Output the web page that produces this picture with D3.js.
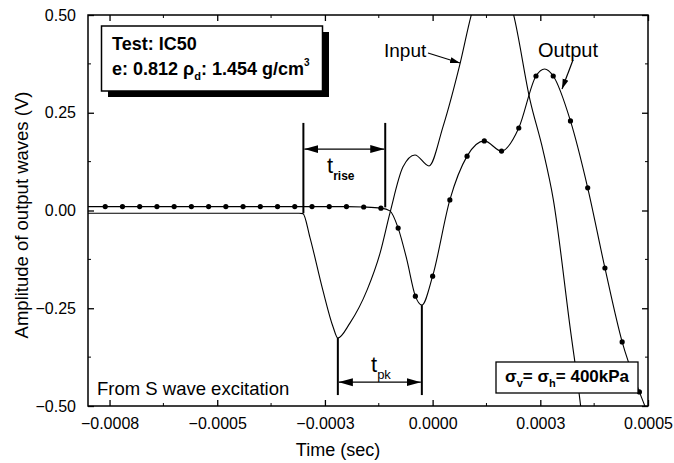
<!DOCTYPE html>
<html><head><meta charset="utf-8">
<script src="https://cdn.jsdelivr.net/npm/d3@7"></script>
<style>body{margin:0;background:#fff;} svg{display:block;font-family:"Liberation Sans",Arial,sans-serif;}</style>
</head><body><svg id="c" width="674" height="463"></svg>
<script>
// ---- tick definitions ----
const xTickValues = [-0.00075, -0.0005, -0.00025, 0, 0.00025, 0.0005];
const xTickLabels = ["\u22120.0008", "\u22120.0005", "\u22120.0003", "0.0000", "0.0003", "0.0005"];
const yTickValues = [0.5, 0.25, 0, -0.25, -0.5];
const yTickLabels = ["0.50", "0.25", "0.00", "\u22120.25", "\u22120.50"];

// ---- Output wave (line) ----
const outputTime = [-0.0008, -0.00076, -0.00072, -0.00068, -0.00064, -0.0006, -0.00056, -0.00052, -0.00048,
  -0.00044, -0.0004, -0.00036, -0.00032, -0.00028, -0.00024, -0.0002, -0.00016, -0.00012, -0.000099,
  -0.00008, -0.00006, -0.00004, -0.000025, 0, 0.00004, 0.00008, 0.00012, 0.00016, 0.0002, 0.00024,
  0.00026, 0.00028, 0.00032, 0.00036, 0.0004, 0.00044, 0.00048, 0.0005];
const outputValue = [0.01, 0.01, 0.01, 0.01, 0.01, 0.01, 0.01, 0.01, 0.01,
  0.01, 0.01, 0.01, 0.01, 0.01, 0.01, 0.01, 0.009, 0.006, -0.001,
  -0.045, -0.125, -0.219, -0.242, -0.168, 0.027, 0.139, 0.178, 0.152, 0.211, 0.344,
  0.362, 0.344, 0.229, 0.058, -0.147, -0.336, -0.464, -0.52];

// ---- Output wave (symbols) ----
const markerTime = [-0.00076, -0.00072, -0.00068, -0.00064, -0.0006, -0.00056, -0.00052, -0.00048,
  -0.00044, -0.0004, -0.00036, -0.00032, -0.00028, -0.00024, -0.0002, -0.00016, -0.00012,
  -0.00008, -0.00004, 0, 0.00004, 0.00008, 0.00012, 0.00016, 0.0002, 0.00024, 0.00028,
  0.00032, 0.00036, 0.0004, 0.00044, 0.00048];
const markerValue = [0.01, 0.01, 0.01, 0.01, 0.01, 0.01, 0.01, 0.01,
  0.01, 0.01, 0.01, 0.01, 0.01, 0.01, 0.01, 0.009, 0.006,
  -0.045, -0.219, -0.168, 0.027, 0.139, 0.178, 0.152, 0.211, 0.344, 0.344,
  0.229, 0.058, -0.147, -0.336, -0.464];

// ---- Input wave ----
const inputTime = [-0.0008, -0.00031, -0.000301, -0.000285, -0.000255, -0.000231, -0.00022, -0.000192,
  -0.000152, -0.000122, -0.000099, -0.000069, -0.000041, -0.0000084, 0.000024, 0.000064, 0.000091,
  0.00014, 0.000187, 0.000226, 0.000256, 0.00028, 0.00032, 0.000342, 0.00035];
const inputValue = [-0.007, -0.007, -0.008, -0.068, -0.203, -0.298, -0.326, -0.288,
  -0.203, -0.109, -0.006, 0.111, 0.142, 0.114, 0.214, 0.377, 0.505,
  0.62, 0.505, 0.283, 0.155, 0.029, -0.306, -0.485, -0.56];

// ---- annotation anchors (data units) ----
const riseStart = -0.0003, riseEnd = -0.00011, riseTop = 0.224, riseArrowY = 0.157;
const pkStart = -0.00022, pkEnd = -0.000025, pkBottom = -0.472, pkArrowY = -0.439;

const W = 674, H = 463;
const m = {left: 88, right: 26, top: 15, bottom: 57};
const pw = W - m.left - m.right, ph = H - m.top - m.bottom;

const svg = d3.select("#c");
const x = d3.scaleLinear().domain([-0.0008, 0.0005]).range([m.left, m.left + pw]);
const y = d3.scaleLinear().domain([-0.5, 0.5]).range([m.top + ph, m.top]);

const defs = svg.append("defs");
defs.append("clipPath").attr("id", "clip").append("rect")
  .attr("x", m.left).attr("y", m.top).attr("width", pw).attr("height", ph);
defs.append("marker").attr("id", "ah").attr("viewBox", "0 -5 14 10")
  .attr("markerUnits", "userSpaceOnUse").attr("markerWidth", 14).attr("markerHeight", 10)
  .attr("refX", 14).attr("refY", 0).attr("orient", "auto-start-reverse")
  .append("path").attr("d", "M0,-4L14,0L0,4Z").attr("fill", "#000");
defs.append("marker").attr("id", "ahs").attr("viewBox", "0 -4 10 8")
  .attr("markerUnits", "userSpaceOnUse").attr("markerWidth", 10).attr("markerHeight", 8)
  .attr("refX", 10).attr("refY", 0).attr("orient", "auto")
  .append("path").attr("d", "M0,-3L10,0L0,3Z").attr("fill", "#000");

// minor ticks
const xMinor = [-0.000625, -0.000375, -0.000125, 0.000125, 0.000375];
const yMinor = [0.375, 0.125, -0.125, -0.375];

// axes
const axB = d3.axisBottom(x).tickValues(xTickValues).tickFormat((d, i) => xTickLabels[i]).tickSizeInner(-6).tickSizeOuter(0).tickPadding(12);
const axT = d3.axisTop(x).tickValues(xTickValues).tickFormat("").tickSizeInner(-6).tickSizeOuter(0);
const axL = d3.axisLeft(y).tickValues(yTickValues).tickFormat((d, i) => yTickLabels[i]).tickSizeInner(-6).tickSizeOuter(0).tickPadding(12);
const axR = d3.axisRight(y).tickValues(yTickValues).tickFormat("").tickSizeInner(-6).tickSizeOuter(0);

function styleAxis(g) {
  g.select(".domain").remove();
  g.selectAll(".tick line").attr("stroke", "#000").attr("stroke-width", 1.3);
  g.selectAll(".tick text").attr("fill", "#000").attr("font-size", 16).attr("font-family", "Liberation Sans, Arial, sans-serif");
}
svg.append("g").attr("transform", `translate(0,${m.top + ph})`).call(axB).call(styleAxis);
svg.append("g").attr("transform", `translate(0,${m.top})`).call(axT).call(styleAxis);
svg.append("g").attr("transform", `translate(${m.left},0)`).call(axL).call(styleAxis);
svg.append("g").attr("transform", `translate(${m.left + pw},0)`).call(axR).call(styleAxis);

// minor tick marks
const mg = svg.append("g").attr("stroke", "#000").attr("stroke-width", 1);
xMinor.forEach(v => {
  mg.append("line").attr("x1", x(v)).attr("x2", x(v)).attr("y1", m.top + ph).attr("y2", m.top + ph - 3);
  mg.append("line").attr("x1", x(v)).attr("x2", x(v)).attr("y1", m.top).attr("y2", m.top + 3);
});
yMinor.forEach(v => {
  mg.append("line").attr("x1", m.left).attr("x2", m.left + 3).attr("y1", y(v)).attr("y2", y(v));
  mg.append("line").attr("x1", m.left + pw).attr("x2", m.left + pw - 3).attr("y1", y(v)).attr("y2", y(v));
});

// frame
svg.append("rect").attr("x", m.left).attr("y", m.top).attr("width", pw).attr("height", ph)
  .attr("fill", "none").attr("stroke", "#000").attr("stroke-width", 1.5);

// curves
const line = d3.line().x(d => x(d[0])).y(d => y(d[1])).curve(d3.curveMonotoneX);
const cg = svg.append("g").attr("clip-path", "url(#clip)");
cg.append("path").datum(inputTime.map((t, i) => [t, inputValue[i]]))
  .attr("d", line).attr("fill", "none").attr("stroke", "#000").attr("stroke-width", 1.1);
cg.append("path").datum(outputTime.map((t, i) => [t, outputValue[i]]))
  .attr("d", line).attr("fill", "none").attr("stroke", "#000").attr("stroke-width", 1.1);
cg.selectAll("circle.m").data(markerTime.map((t, i) => [t, markerValue[i]])).enter()
  .append("circle").attr("class", "m").attr("cx", d => x(d[0])).attr("cy", d => y(d[1]))
  .attr("r", 2.6).attr("fill", "#000");

// t_rise annotation
const ag = svg.append("g").attr("stroke", "#000");
ag.append("line").attr("x1", x(riseStart)).attr("x2", x(riseStart)).attr("y1", y(riseTop)).attr("y2", y(-0.007)).attr("stroke-width", 2);
ag.append("line").attr("x1", x(riseEnd)).attr("x2", x(riseEnd)).attr("y1", y(riseTop)).attr("y2", y(0.008)).attr("stroke-width", 2);
ag.append("line").attr("x1", x(riseStart) + 1).attr("x2", x(riseEnd) - 1).attr("y1", y(riseArrowY)).attr("y2", y(riseArrowY))
  .attr("stroke-width", 1.3).attr("marker-start", "url(#ah)").attr("marker-end", "url(#ah)");
// t_pk annotation
ag.append("line").attr("x1", x(pkStart)).attr("x2", x(pkStart)).attr("y1", y(-0.326)).attr("y2", y(pkBottom)).attr("stroke-width", 2);
ag.append("line").attr("x1", x(pkEnd)).attr("x2", x(pkEnd)).attr("y1", y(-0.242)).attr("y2", y(pkBottom)).attr("stroke-width", 2);
ag.append("line").attr("x1", x(pkStart) + 1).attr("x2", x(pkEnd) - 1).attr("y1", y(pkArrowY)).attr("y2", y(pkArrowY))
  .attr("stroke-width", 1.3).attr("marker-start", "url(#ah)").attr("marker-end", "url(#ah)");

const tr = svg.append("text").attr("x", 327).attr("y", 173).attr("fill", "#000");
tr.append("tspan").attr("font-size", 22).text("t");
tr.append("tspan").attr("font-size", 12).attr("font-weight", "bold").attr("dy", 7).text("rise");
const tp = svg.append("text").attr("x", 371).attr("y", 372).attr("fill", "#000");
tp.append("tspan").attr("font-size", 22).text("t");
tp.append("tspan").attr("font-size", 13).attr("dy", 7).text("pk");

// Input / Output labels with arrows
svg.append("text").attr("x", 384).attr("y", 57).attr("font-size", 19).text("Input");
svg.append("line").attr("x1", 428).attr("y1", 53).attr("x2", 460).attr("y2", 63)
  .attr("stroke", "#000").attr("stroke-width", 1.2).attr("marker-end", "url(#ahs)");
svg.append("text").attr("x", 538).attr("y", 57).attr("font-size", 20).text("Output");
svg.append("line").attr("x1", 573).attr("y1", 60).attr("x2", 562).attr("y2", 89)
  .attr("stroke", "#000").attr("stroke-width", 1.2).attr("marker-end", "url(#ahs)");

// info box top-left
svg.append("rect").attr("x", 108).attr("y", 32).attr("width", 221).attr("height", 65).attr("fill", "#000");
svg.append("rect").attr("x", 101.5).attr("y", 26).attr("width", 221).attr("height", 65)
  .attr("fill", "#fff").attr("stroke", "#000").attr("stroke-width", 1.5);
svg.append("text").attr("x", 112).attr("y", 49.5).attr("font-size", 18).attr("font-weight", "bold").text("Test: IC50");
const l2 = svg.append("text").attr("x", 112).attr("y", 75).attr("font-size", 18).attr("font-weight", "bold");
l2.append("tspan").text("e: 0.812 \u03c1");
l2.append("tspan").attr("font-size", 11).attr("dy", 5).text("d");
l2.append("tspan").attr("dy", -5).text(": 1.454 g/cm");
l2.append("tspan").attr("font-size", 10).attr("dy", -9).text("3");

// stress box bottom-right
svg.append("rect").attr("x", 496).attr("y", 362).attr("width", 142).attr("height", 31)
  .attr("fill", "#fff").attr("stroke", "#000").attr("stroke-width", 1.3);
const st = svg.append("text").attr("x", 505).attr("y", 382).attr("font-size", 17).attr("font-weight", "bold");
st.append("tspan").text("\u03c3");
st.append("tspan").attr("font-size", 11).attr("dy", 5).text("v");
st.append("tspan").attr("dy", -5).text("= \u03c3");
st.append("tspan").attr("font-size", 11).attr("dy", 5).text("h");
st.append("tspan").attr("dy", -5).text("= 400kPa");

// From S wave excitation
svg.append("text").attr("x", 97).attr("y", 395).attr("font-size", 18.5).text("From S wave excitation");

// axis titles
svg.append("text").attr("x", 338).attr("y", 456).attr("text-anchor", "middle").attr("font-size", 18).text("Time (sec)");
svg.append("text").attr("transform", "translate(28,215) rotate(-90)").attr("text-anchor", "middle")
  .attr("font-size", 18.5).text("Amplitude of output waves (V)");
</script></body></html>
